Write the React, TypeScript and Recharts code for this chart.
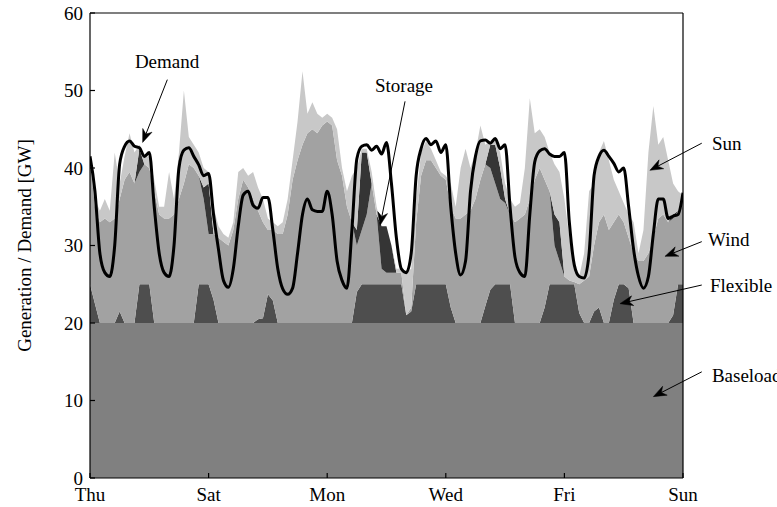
import React from "react";
import {
  ComposedChart,
  Area,
  Line,
  XAxis,
  YAxis,
  ReferenceLine,
  ReferenceDot,
} from "recharts";

// ---------- data (GW, one sample every 2 hours, Thu 00:00 .. Sun 00:00) ----------
const STEP_HOURS = 2;
const dayTickHours = [0, 48, 96, 144, 192, 240];
const dayTickLabels = ["Thu", "Sat", "Mon", "Wed", "Fri", "Sun"];
const gwTicks = [0, 10, 20, 30, 40, 50, 60];

const baseloadGW = 20;

const demand = [
  41.5, 37, 29, 26.5, 26, 30, 40.5, 42.8, 43.5, 42.8,
  42.6, 41.5, 42, 35, 29, 26.5, 26, 30, 40, 42.3,
  42.6, 41.5, 40.4, 39, 39.3, 34, 29.5, 25.5, 24.6, 27,
  32.5, 36.5, 37, 35.2, 34.8, 36.2, 36.2, 32, 27, 24.4,
  23.7, 24.5, 29, 34, 36, 34.6, 34.4, 34.4, 37, 34,
  28, 25.5, 24.5, 32, 41.2, 42.8, 43, 42.3, 42.8, 41.8,
  43.3, 38, 31, 27, 26.5, 29, 39, 42.5, 43.8, 43,
  43.5, 42, 43, 35, 29, 26.2, 28, 37, 41.5, 43.5,
  43.6, 43.2, 43.8, 42.5, 43, 35, 28.5, 26.5, 26, 34,
  40.8, 42.2, 42.5, 41.8, 41.5, 41.5, 42, 33, 27.5, 26,
  25.8, 29, 39, 41.5, 42.3, 41.5, 40.6, 39.5, 40, 35,
  29.5, 26, 24.5, 26, 31.5, 36, 36, 33.5, 33.8, 34,
  36.8,
];

const flexible = [
  5, 2.5, 0, 0, 0, 0, 1.5, 0, 0, 0,
  5, 5, 5, 0, 0, 0, 0, 0, 0, 0,
  0, 0, 5, 5, 5, 3, 0, 0, 0, 0,
  0, 0, 0, 0, 0.5, 0.6, 3.7, 2.9, 0, 0,
  0, 0, 0, 0, 0, 0, 0, 0, 0, 0,
  0, 0, 0, 0, 4, 5, 5, 5, 5, 5,
  5, 5, 5, 5, 1, 1.5, 5, 5, 5, 5,
  5, 5, 5, 2, 0, 0, 0, 0, 0, 0,
  2.2, 4.3, 5, 5, 5, 5, 0, 0, 0, 0,
  0, 0, 2, 5, 5, 5, 5, 5, 5, 1.3,
  0, 0, 1.5, 2, 0, 0, 3, 5, 5, 4.5,
  0, 0, 0, 0, 0, 0, 0, 0, 1, 5,
  5,
];

const wind = [
  16, 12.5, 13, 13.5, 13, 13.5, 14.5, 18.5, 19.5, 18,
  14.5, 15.5, 15, 17, 14, 13.5, 13.5, 14, 16, 18,
  20.5, 20, 14, 11, 6.5, 8.5, 11, 10.5, 10, 12,
  16, 18.5, 17.5, 16, 14, 12.4, 8.3, 9.1, 11.5, 11.5,
  14, 18.5, 21, 23, 24.5, 25, 24.5, 25.5, 26, 25.5,
  21, 19, 15, 13, 6, 7, 9, 13, 9, 2,
  1.5, 1.5, 1.5, 1.5, 0, 0.5, 8, 14, 16, 16,
  15, 14, 13.5, 13, 13.5, 13.5, 14, 14.5, 16, 18.5,
  18.3, 15.7, 13, 11, 10.5, 9, 13, 13.5, 14, 16,
  18.5, 20, 16.5, 12, 5, 3, 1, 0.5, 0.3, 3.7,
  5.5, 6, 8.5, 11, 14, 12, 10, 9, 8, 6.5,
  9, 8, 8, 9, 11, 13.5, 14, 13, 12.5, 9.5,
  10,
];

const storage = [
  0, 0, 0, 0, 0, 0, 0, 0, 0, 0,
  3, 0, 0, 0, 0, 0, 0, 0, 0, 0,
  0, 0, 0, 1.5, 6.5, 0, 0, 0, 0, 0,
  0, 0, 0, 0, 0, 0, 0, 0, 0, 0,
  0, 0, 0, 0, 0, 0, 0, 0, 0, 0,
  0, 0, 0, 0, 2, 10, 8, 0, 0, 5.5,
  6, 3.5, 0, 0, 0, 0, 0, 0, 0, 0,
  0, 0, 0, 0, 0, 0, 0, 0, 0, 0,
  0, 3, 5, 4, 0.5, 0, 0, 0, 0, 0,
  0, 0, 0, 0, 4, 5, 0, 0, 0, 0,
  0, 0, 0, 0, 0, 0, 0, 0, 0, 0,
  0, 0, 0, 0, 0, 0, 0, 0, 0.5, 0,
  0,
];

const sun = [
  0.5, 1, 1.5, 2.5, 1.5, 8.5, 2, 3, 5, 4,
  0.5, 1, 1.5, 1.5, 1, 1.5, 6, 2, 6, 12,
  3.5, 3, 3, 2.5, 1.5, 3.5, 1.5, 1, 1, 1,
  3.5, 1.5, 1.5, 3.5, 3, 3, 1.5, 1, 1, 1.5,
  2, 2.5, 5, 9.5, 2.5, 3.5, 2.5, 1, 1, 1,
  4, 1, 2, 6, 8, 0.5, 0.5, 1.5, 1, 0,
  0, 0, 0.5, 0.5, 5.5, 5, 3, 3, 2.5, 1.5,
  1, 0.5, 0.5, 3, 1.5, 6.5, 8.5, 5.5, 6, 7,
  2.5, 0.5, 1, 2, 2, 2, 2, 2, 6, 13,
  6, 5, 5.5, 5, 6.5, 6.5, 10, 5.5, 1.7, 1,
  3.5, 11, 8, 9, 9.5, 9, 5.5, 3, 2.5, 3,
  4, 1, 4, 13, 17, 9.5, 10, 8, 4, 2.5,
  1.5,
];

// annotations, in data units (hours, GW)
const annotations = [
  { text: "Demand", lx: 31.2, ly: 53.8, anchor: "middle", fx: 31.3, fy: 51.4, tx: 21.3, ty: 43.3 },
  { text: "Storage", lx: 127.1, ly: 50.7, anchor: "middle", fx: 127.5, fy: 48.6, tx: 117.4, ty: 32.6 },
  { text: "Sun", lx: 251.7, ly: 43.2, anchor: "start", fx: 247.6, fy: 43.2, tx: 226.6, ty: 39.7 },
  { text: "Wind", lx: 250.1, ly: 30.8, anchor: "start", fx: 247.6, fy: 30.5, tx: 232.7, ty: 28.6 },
  { text: "Flexible", lx: 250.9, ly: 24.8, anchor: "start", fx: 247.6, fy: 24.9, tx: 214.5, ty: 22.5 },
  { text: "Baseload", lx: 251.7, ly: 13.2, anchor: "start", fx: 247.6, fy: 13.7, tx: 228, ty: 10.5 },
];
const yAxisTitle = { text: "Generation / Demand [GW]", x: -26.7, y: 30 };

const rows = demand.map((d, i) => ({
  h: i * STEP_HOURS,
  baseload: baseloadGW,
  flexible: flexible[i],
  wind: wind[i],
  storage: storage[i],
  sun: sun[i],
  demand: d,
}));

const FONT = "'Liberation Serif', 'Times New Roman', Times, serif";
const FS = 19;

const dayLabel = (h: number) => {
  const idx = dayTickHours.indexOf(h);
  return idx >= 0 ? dayTickLabels[idx] : "";
};

const Arrow = (props: any) => {
  const { x1, y1, x2, y2 } = props;
  if ([x1, y1, x2, y2].some((v) => typeof v !== "number" || isNaN(v))) return null;
  const dx = x2 - x1;
  const dy = y2 - y1;
  const len = Math.sqrt(dx * dx + dy * dy) || 1;
  const ux = dx / len;
  const uy = dy / len;
  const nx = -uy;
  const ny = ux;
  const L = 13;
  const w = 5;
  const notch = 9;
  const bx = x2 - ux * L;
  const by = y2 - uy * L;
  const mx = x2 - ux * notch;
  const my = y2 - uy * notch;
  const pts = `${x2},${y2} ${bx + nx * w},${by + ny * w} ${mx},${my} ${bx - nx * w},${by - ny * w}`;
  return (
    <g>
      <line x1={x1} y1={y1} x2={mx} y2={my} stroke="#000" strokeWidth={1} />
      <polygon points={pts} fill="#000" stroke="#000" strokeWidth={0.5} />
    </g>
  );
};

const makeTextShape = (text: string, anchor: string, rotate = false) => (p: any) => {
  const { cx, cy } = p;
  if (typeof cx !== "number" || typeof cy !== "number") return null;
  return (
    <text
      x={cx}
      y={cy}
      textAnchor={anchor as any}
      dominantBaseline="central"
      fontFamily={FONT}
      fontSize={FS}
      fill="#000"
      transform={rotate ? `rotate(-90 ${cx} ${cy})` : undefined}
    >
      {text}
    </text>
  );
};

export default function App() {
  const axisStroke = { stroke: "#000", strokeWidth: 1.2 };
  const tickStyle = { fill: "#000", fontSize: FS, fontFamily: FONT };
  return (
    <div style={{ position: "absolute", left: 0, top: 0, width: 777, height: 507, background: "#fff" }}>
      <ComposedChart
        width={777}
        height={507}
        data={rows}
        margin={{ top: 12, right: 93, bottom: 0, left: 30 }}
      >
        <XAxis
          dataKey="h"
          type="number"
          domain={[0, 240]}
          ticks={dayTickHours}
          tickFormatter={dayLabel}
          height={29}
          tickSize={-5}
          tickMargin={15}
          axisLine={axisStroke}
          tickLine={axisStroke}
          tick={tickStyle}
          interval={0}
          allowDataOverflow
        />
        <XAxis
          xAxisId="top"
          orientation="top"
          type="number"
          domain={[0, 240]}
          ticks={dayTickHours}
          height={1}
          tickSize={-5}
          axisLine={axisStroke}
          tickLine={axisStroke}
          tick={false}
          interval={0}
          allowDataOverflow
        />
        <YAxis
          type="number"
          domain={[0, 60]}
          ticks={gwTicks}
          width={60}
          tickSize={-5}
          tickMargin={12}
          axisLine={axisStroke}
          tickLine={axisStroke}
          tick={tickStyle}
          interval={0}
          allowDataOverflow
        />
        <YAxis
          yAxisId="right"
          orientation="right"
          type="number"
          domain={[0, 60]}
          ticks={gwTicks}
          width={1}
          tickSize={-5}
          axisLine={axisStroke}
          tickLine={axisStroke}
          tick={false}
          interval={0}
          allowDataOverflow
        />

        <Area dataKey="baseload" stackId="gen" type="linear" stroke="none" fill="#808080" fillOpacity={1} isAnimationActive={false} />
        <Area dataKey="flexible" stackId="gen" type="linear" stroke="none" fill="#4e4e4e" fillOpacity={1} isAnimationActive={false} />
        <Area dataKey="wind" stackId="gen" type="linear" stroke="none" fill="#a2a2a2" fillOpacity={1} isAnimationActive={false} />
        <Area dataKey="storage" stackId="gen" type="linear" stroke="none" fill="#353535" fillOpacity={1} isAnimationActive={false} />
        <Area dataKey="sun" stackId="gen" type="linear" stroke="none" fill="#c8c8c8" fillOpacity={1} isAnimationActive={false} />
        <Line dataKey="demand" type="monotone" stroke="#000" strokeWidth={3} dot={false} isAnimationActive={false} />

        {annotations.map((a) => (
          <ReferenceLine
            key={"arrow-" + a.text}
            segment={[
              { x: a.fx, y: a.fy },
              { x: a.tx, y: a.ty },
            ]}
            ifOverflow="visible"
            shape={Arrow}
          />
        ))}
        {annotations.map((a) => (
          <ReferenceDot
            key={"label-" + a.text}
            x={a.lx}
            y={a.ly}
            r={0}
            ifOverflow="visible"
            shape={makeTextShape(a.text, a.anchor)}
          />
        ))}
        <ReferenceDot
          x={yAxisTitle.x}
          y={yAxisTitle.y}
          r={0}
          ifOverflow="visible"
          shape={makeTextShape(yAxisTitle.text, "middle", true)}
        />
      </ComposedChart>
    </div>
  );
}
